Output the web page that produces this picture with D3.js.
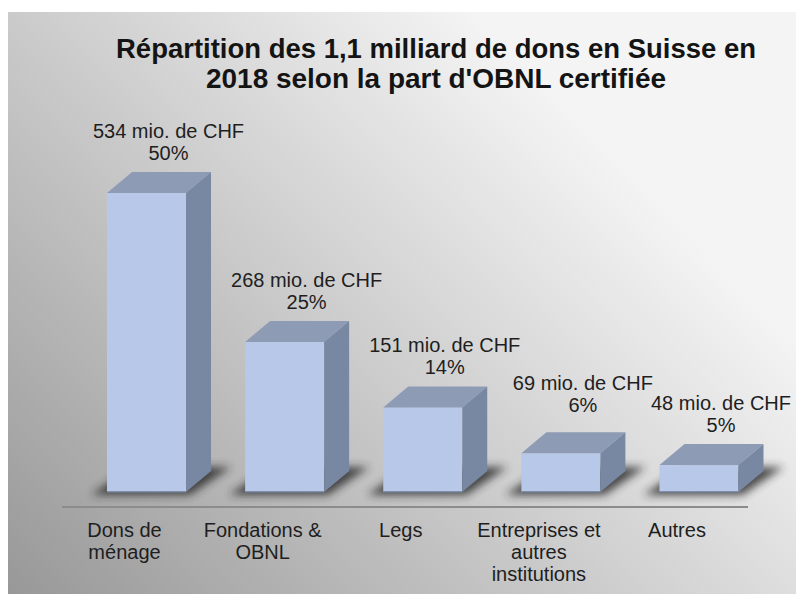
<!DOCTYPE html>
<html>
<head>
<meta charset="utf-8">
<script src="https://cdn.jsdelivr.net/npm/d3@7/dist/d3.min.js"></script>
<style>
  html, body { margin: 0; padding: 0; background: #ffffff; }
  svg { display: block; }
  text { font-family: "Liberation Sans", Arial, sans-serif; }
</style>
</head>
<body>
<svg id="chart" width="796" height="594"></svg>
<script>
// ---- data ----
const titleLines = ["Répartition des 1,1 milliard de dons en Suisse en", "2018 selon la part d'OBNL certifiée"];
const categories = ["Dons de ménage", "Fondations & OBNL", "Legs", "Entreprises et autres institutions", "Autres"];
const categoryLines = [["Dons de", "ménage"], ["Fondations &", "OBNL"], ["Legs"], ["Entreprises et", "autres", "institutions"], ["Autres"]];
const amounts = [534, 268, 151, 69, 48];       // mio. de CHF
const percents = [50, 25, 14, 6, 5];           // %

// ---- layout ----
const W = 796, H = 594;
const svg = d3.select("#chart");
const defs = svg.append("defs");

const bg = defs.append("linearGradient").attr("id", "bg")
  .attr("gradientUnits", "userSpaceOnUse")
  .attr("x1", 8).attr("y1", 594).attr("x2", 537).attr("y2", 75);
bg.append("stop").attr("offset", 0).attr("stop-color", "#989898");
bg.append("stop").attr("offset", 1).attr("stop-color", "#f4f4f4");

const blur = defs.append("filter").attr("id", "shadowBlur")
  .attr("x", "-50%").attr("y", "-50%").attr("width", "200%").attr("height", "200%");
blur.append("feGaussianBlur").attr("stdDeviation", 4);

svg.append("rect").attr("x", 8).attr("y", 12).attr("width", W - 8).attr("height", H - 12)
  .attr("fill", "url(#bg)");

// title
svg.append("g").selectAll("text").data(titleLines).join("text")
  .attr("x", 436)
  .attr("y", (d, i) => 58 + i * 30)
  .attr("text-anchor", "middle")
  .attr("font-size", 27)
  .attr("font-weight", "bold")
  .attr("fill", "#141414")
  .attr("textLength", (d, i) => i === 0 ? 640 : 460)
  .attr("lengthAdjust", "spacingAndGlyphs")
  .text(d => d);

// scales
const x = d3.scalePoint().domain(categories).range([146.5, 699]);
const y = d3.scaleLinear().domain([0, 600]).range([492, 156]);
const barW = 79;
const depthX = 25, depthY = 21;

const data = categories.map((c, i) => ({ c, v: amounts[i], p: percents[i], lines: categoryLines[i] }));

// baseline (floor edge)
svg.append("line")
  .attr("x1", 62).attr("x2", 748)
  .attr("y1", 507).attr("y2", 507)
  .attr("stroke", "#8c8c8c").attr("stroke-width", 2);

const gBars = svg.append("g");
const base = y(0);

// shadows
gBars.selectAll("polygon.shadow").data(data).join("polygon")
  .attr("class", "shadow")
  .attr("points", d => {
    const x0 = x(d.c) - barW / 2, x1 = x(d.c) + barW / 2;
    return [
      [x0 - 16, base + 3],
      [x1 + 4, base + 3],
      [x1 + depthX + 20, base - depthY - 4],
      [x0 + depthX, base - depthY - 4]
    ].map(p => p.join(",")).join(" ");
  })
  .attr("fill", "#262626")
  .attr("opacity", 0.8)
  .attr("filter", "url(#shadowBlur)");

const bar = gBars.selectAll("g.bar").data(data).join("g").attr("class", "bar");

// front face
bar.append("rect")
  .attr("x", d => x(d.c) - barW / 2)
  .attr("y", d => y(d.v))
  .attr("width", barW)
  .attr("height", d => base - y(d.v))
  .attr("fill", "#b8c8e8");

// front bottom edge
bar.append("line")
  .attr("x1", d => x(d.c) - barW / 2)
  .attr("x2", d => x(d.c) + barW / 2)
  .attr("y1", base).attr("y2", base)
  .attr("stroke", "#6f7b92").attr("stroke-width", 1.5);

// top face
bar.append("polygon")
  .attr("points", d => {
    const x0 = x(d.c) - barW / 2, x1 = x(d.c) + barW / 2, t = y(d.v);
    return [[x0, t], [x0 + depthX, t - depthY], [x1 + depthX, t - depthY], [x1, t]]
      .map(p => p.join(",")).join(" ");
  })
  .attr("fill", "#8e9bb5");

// side face
bar.append("polygon")
  .attr("points", d => {
    const x1 = x(d.c) + barW / 2, t = y(d.v);
    return [[x1, t], [x1 + depthX, t - depthY], [x1 + depthX, base - depthY], [x1, base]]
      .map(p => p.join(",")).join(" ");
  })
  .attr("fill", "#7888a2");

// value labels: placed above each bar, lifted when they would collide with the next label
const lineH = 22, labelGap = 12;
data.forEach(d => { d.ly = y(d.v) - depthY - labelGap; d.lx = x(d.c) + 22; });
for (let i = data.length - 2; i >= 0; i--) {
  const a = data[i], b = data[i + 1];
  if (b.lx - a.lx < 150 && a.ly > b.ly - lineH + 2) a.ly = b.ly - lineH + 2;
}
const vl = svg.append("g").selectAll("text").data(data).join("text")
  .attr("text-anchor", "middle")
  .attr("font-size", 20)
  .attr("fill", "#1e1e1e");
vl.append("tspan")
  .attr("x", d => d.lx)
  .attr("y", d => d.ly - lineH)
  .text(d => `${d.v} mio. de CHF`);
vl.append("tspan")
  .attr("x", d => d.lx)
  .attr("y", d => d.ly)
  .text(d => `${d.p}%`);

// category labels
const cl = svg.append("g").selectAll("text").data(data).join("text")
  .attr("text-anchor", "middle")
  .attr("font-size", 20)
  .attr("fill", "#1e1e1e");
cl.selectAll("tspan").data(d => d.lines.map(l => ({ l, cx: x(d.c) - 22 }))).join("tspan")
  .attr("x", d => d.cx)
  .attr("y", (d, i) => 537 + i * 22)
  .text(d => d.l);
</script>
</body>
</html>
